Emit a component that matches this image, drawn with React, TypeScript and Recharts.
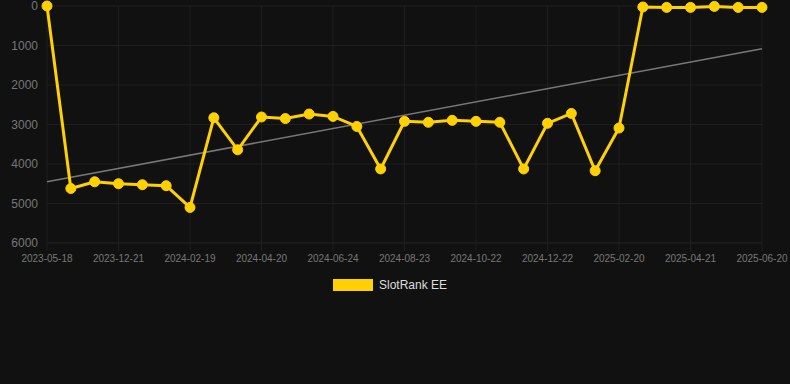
import { LineChart, Line, XAxis, YAxis, CartesianGrid } from 'recharts';

// dates for each sample (only every 3rd one is labelled on the axis)
const dates = [
  '2023-05-18', '2023-11-22', '2023-12-01', '2023-12-21', '2024-01-10', '2024-01-30',
  '2024-02-19', '2024-03-10', '2024-03-31', '2024-04-20', '2024-05-12', '2024-06-02',
  '2024-06-24', '2024-07-14', '2024-08-03', '2024-08-23', '2024-09-12', '2024-10-02',
  '2024-10-22', '2024-11-11', '2024-12-02', '2024-12-22', '2025-01-11', '2025-01-31',
  '2025-02-20', '2025-03-12', '2025-04-01', '2025-04-21', '2025-05-11', '2025-05-31',
  '2025-06-20',
];

const ranks = [
  0, 4620, 4450, 4500, 4525, 4550, 5100, 2830, 3640, 2810, 2850, 2735, 2795, 3050, 4125,
  2920, 2945, 2895, 2920, 2945, 4125, 2970, 2720, 4170, 3090, 25, 35, 35, 10, 35, 35,
];

// trend line end points (first and last sample)
const trendStart = 4450;
const trendEnd = 1080;

const xTicks = [
  '2023-05-18', '2023-12-21', '2024-02-19', '2024-04-20', '2024-06-24', '2024-08-23',
  '2024-10-22', '2024-12-22', '2025-02-20', '2025-04-21', '2025-06-20',
];
const yTicks = [0, 1000, 2000, 3000, 4000, 5000, 6000];

const data = dates.map((date, i) => ({
  date,
  rank: ranks[i],
  trend: i === 0 ? trendStart : i === dates.length - 1 ? trendEnd : null,
}));

const YELLOW = '#FFD100';
const GRID = '#1f1f1f';

export default function App() {
  return (
    <div
      style={{
        position: 'absolute',
        top: 0,
        left: 0,
        width: 790,
        height: 384,
        background: '#111111',
        fontFamily: '"Liberation Sans", Arial, sans-serif',
      }}
    >
      <LineChart width={790} height={384} data={data} margin={{ top: 6, right: 28, bottom: 111, left: 0 }}>
        <CartesianGrid stroke={GRID} strokeWidth={1} />
        <XAxis
          dataKey="date"
          ticks={xTicks}
          interval={0}
          height={30}
          tick={{ fill: '#777', fontSize: 10 }}
          tickSize={8}
          tickMargin={4}
          tickLine={{ stroke: GRID }}
          axisLine={{ stroke: GRID }}
        />
        <YAxis
          reversed
          domain={[0, 6000]}
          ticks={yTicks}
          interval={0}
          width={47}
          tick={{ fill: '#777', fontSize: 12 }}
          tickMargin={3}
          axisLine={false}
          tickLine={false}
        />
        <Line
          dataKey="trend"
          stroke="#777777"
          strokeWidth={1.5}
          dot={false}
          connectNulls
          isAnimationActive={false}
        />
        <Line
          dataKey="rank"
          stroke={YELLOW}
          strokeWidth={3}
          dot={{ r: 5, fill: YELLOW, stroke: YELLOW, strokeWidth: 1 }}
          activeDot={false}
          isAnimationActive={false}
        />
      </LineChart>
      <div
        style={{
          position: 'absolute',
          top: 278,
          left: 333,
          display: 'flex',
          alignItems: 'center',
          fontSize: 12,
          color: '#dddddd',
        }}
      >
        <span style={{ display: 'inline-block', width: 40, height: 12, background: YELLOW, marginRight: 6 }} />
        <span>SlotRank EE</span>
      </div>
    </div>
  );
}
